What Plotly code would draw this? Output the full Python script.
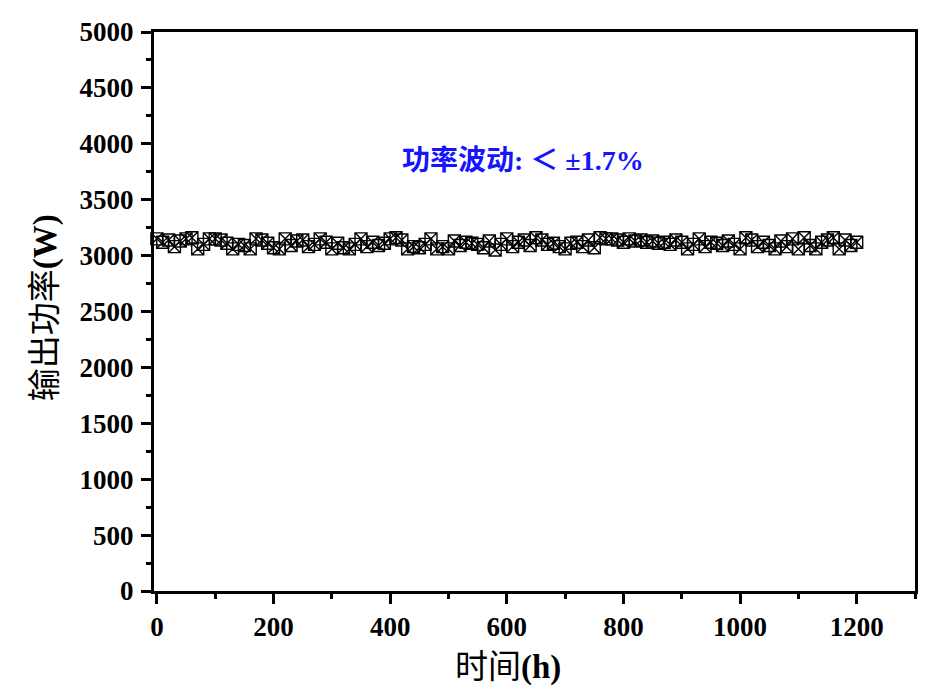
import plotly.graph_objects as go

hours = list(range(0, 1201, 10))
power = [3150, 3120, 3140, 3080, 3130, 3150, 3160, 3060, 3100, 3150,
         3150, 3140, 3110, 3060, 3100, 3090, 3060, 3150, 3140, 3110,
         3070, 3060, 3150, 3090, 3130, 3140, 3080, 3100, 3150, 3120,
         3060, 3110, 3070, 3060, 3100, 3150, 3080, 3120, 3090, 3110,
         3150, 3160, 3140, 3060, 3080, 3070, 3100, 3150, 3060, 3080,
         3060, 3130, 3090, 3120, 3110, 3100, 3070, 3130, 3050, 3100,
         3150, 3080, 3120, 3140, 3090, 3160, 3140, 3100, 3110, 3080,
         3060, 3110, 3120, 3080, 3140, 3070, 3160, 3150, 3150, 3140,
         3120, 3150, 3130, 3140, 3120, 3130, 3110, 3120, 3100, 3140,
         3120, 3060, 3100, 3150, 3080, 3120, 3110, 3090, 3130, 3100,
         3060, 3160, 3140, 3080, 3120, 3090, 3060, 3130, 3080, 3150,
         3060, 3160, 3090, 3060, 3120, 3140, 3160, 3060, 3140, 3090,
         3120]

xticks = [0, 200, 400, 600, 800, 1000, 1200]
yticks = list(range(0, 5001, 500))

fig = go.Figure()
fig.add_trace(go.Scatter(
    x=hours, y=power, mode="markers",
    marker=dict(symbol="square-x-open", size=12, color="black",
                line=dict(width=1.4, color="black")),
    showlegend=False, cliponaxis=False))

title_font = dict(family="Liberation Serif, Noto Sans CJK SC", size=33, color="black")
fig.add_annotation(x=627, y=3855, xref="x", yref="y",
                   text="<b>功率波动: ＜ ±1.7%</b>", showarrow=False,
                   xanchor="center", yanchor="middle",
                   font=dict(family="Liberation Serif, Noto Sans CJK SC", size=28, color="#1414ff"))
fig.add_annotation(x=0.465, y=-0.136, xref="paper", yref="paper",
                   xanchor="center", yanchor="middle",
                   text="时间<b>(h)</b>", showarrow=False, font=title_font)
fig.add_annotation(x=-0.143, y=0.506, xref="paper", yref="paper", textangle=-90,
                   xanchor="center", yanchor="middle",
                   text="输出功率<b>(W)</b>", showarrow=False, font=title_font)

axis_common = dict(showline=True, linecolor="black", linewidth=3, mirror=True,
                   ticks="outside", ticklen=10, tickwidth=3, tickcolor="black",
                   showgrid=False, zeroline=False,
                   tickfont=dict(family="Liberation Serif", size=27, color="black", weight="bold"))

fig.update_xaxes(range=[-5, 1300], tickvals=xticks, ticktext=[str(v) for v in xticks],
                 ticklabelstandoff=0,
                 minor=dict(tickvals=[100, 300, 500, 700, 900, 1100, 1300], ticklen=5, tickwidth=3,
                            tickcolor="black", ticks="outside"),
                 **axis_common)
fig.update_yaxes(range=[0, 5000], tickvals=yticks, ticktext=[str(v) for v in yticks],
                 ticklabelstandoff=2,
                 minor=dict(tickvals=list(range(250, 5000, 500)), ticklen=5, tickwidth=3,
                            tickcolor="black", ticks="outside"),
                 **axis_common)

fig.update_layout(width=941, height=695, plot_bgcolor="white", paper_bgcolor="white",
                  margin=dict(l=154, r=26, t=32, b=104, autoexpand=False))

fig.write_html("out.html")
